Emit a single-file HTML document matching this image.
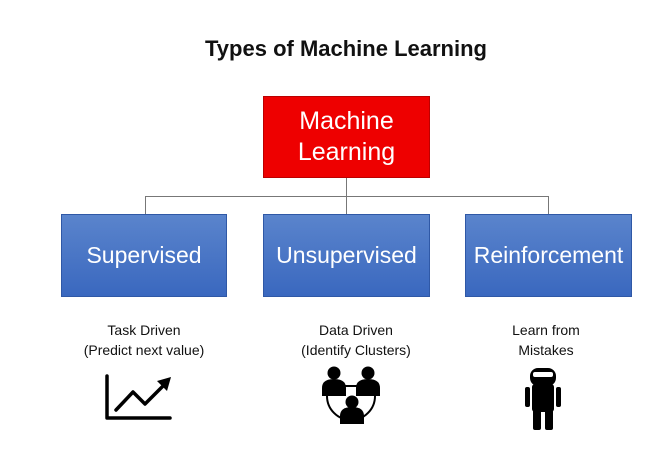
<!DOCTYPE html>
<html><head><style>
body{margin:0;width:669px;height:455px;background:#fff;position:relative;overflow:hidden;font-family:"Liberation Sans",sans-serif}
.a{position:absolute}
.t{left:0;width:692px;top:36px;text-align:center;font-weight:bold;font-size:22px;color:#111}
.box{position:absolute;display:flex;align-items:center;justify-content:center;color:#fff;text-align:center}
.red{left:263px;top:96px;width:167px;height:82px;background:#ee0000;border:1px solid #b00;box-sizing:border-box;font-size:25px;line-height:31px}
.blue{top:214px;height:83px;background:linear-gradient(#5a84cc,#3a68bf);border:1px solid #2f58a6;box-sizing:border-box;font-size:23px}
.lbl{position:absolute;width:200px;text-align:center;font-size:14px;line-height:20px;color:#111}
.ln{position:absolute;background:#777}
</style></head><body>
<div class="a t">Types of Machine Learning</div>
<div class="box red">Machine<br>Learning</div>
<div class="ln" style="left:346px;top:178px;width:1px;height:36px"></div>
<div class="ln" style="left:145px;top:196px;width:404px;height:1px"></div>
<div class="ln" style="left:145px;top:196px;width:1px;height:18px"></div>
<div class="ln" style="left:548px;top:196px;width:1px;height:18px"></div>
<div class="box blue" style="left:61px;width:166px">Supervised</div>
<div class="box blue" style="left:263px;width:167px">Unsupervised</div>
<div class="box blue" style="left:465px;width:167px">Reinforcement</div>
<div class="lbl" style="left:44px;top:320px">Task Driven<br>(Predict next value)</div>
<div class="lbl" style="left:256px;top:320px">Data Driven<br>(Identify Clusters)</div>
<div class="lbl" style="left:446px;top:320px">Learn from<br>Mistakes</div>
<svg class="a" style="left:0;top:0" width="669" height="455">
<g stroke="#000" stroke-width="3.5" fill="none" stroke-linecap="round" stroke-linejoin="round">
<path d="M107 376 V418 H170"/>
<path d="M116 410 L133 392 L145 404 L163 386"/>
</g>
<path d="M157 381 L171 377 L167 391 Z" fill="#000"/>
<g fill="#000">
<circle cx="351" cy="396" r="24" fill="none" stroke="#000" stroke-width="2"/>
<rect x="320" y="370" width="62" height="22" fill="#fff"/>
<line x1="340" y1="386" x2="360" y2="386" stroke="#000" stroke-width="2"/>
<circle cx="334" cy="373" r="6.5"/><path d="M322 396 v-8 q0-9 12-9 q12 0 12 9 v8 Z"/>
<circle cx="368" cy="373" r="6.5"/><path d="M356 396 v-8 q0-9 12-9 q12 0 12 9 v8 Z"/>
<circle cx="352" cy="402" r="6.5"/><path d="M340 424 v-8 q0-9 12-9 q12 0 12 9 v8 Z"/>
<rect x="530" y="368" width="26" height="18" rx="8"/>
<rect x="533" y="372" width="20" height="5" rx="2" fill="#fff"/>
<rect x="532" y="384" width="22" height="28" rx="3"/>
<rect x="525" y="387" width="5" height="20" rx="2"/>
<rect x="556" y="387" width="5" height="20" rx="2"/>
<rect x="533" y="410" width="8" height="20" rx="2"/>
<rect x="545" y="410" width="8" height="20" rx="2"/>
</g>
</svg>
</body></html>
